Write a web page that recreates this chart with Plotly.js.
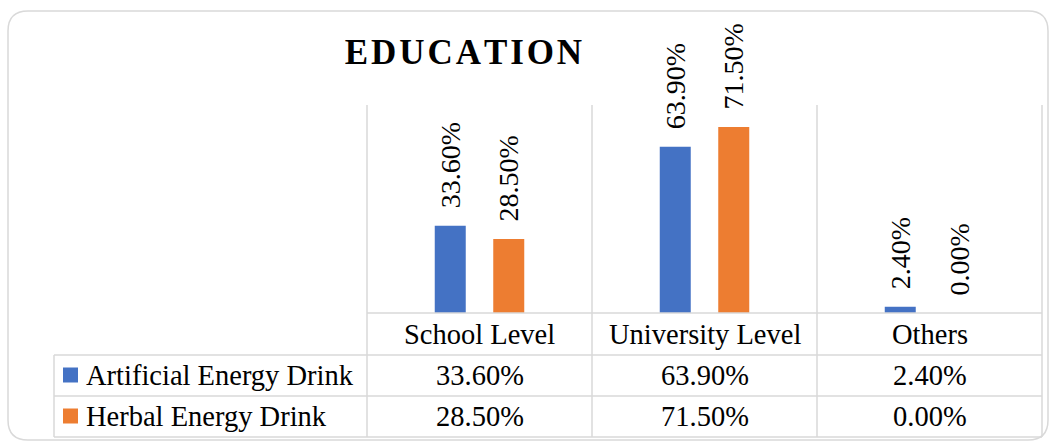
<!DOCTYPE html>
<html>
<head>
<meta charset="utf-8">
<script src="https://cdn.plot.ly/plotly-3.0.1.min.js"></script>
<style>
  html, body { margin: 0; padding: 0; background: #fff; }
  #plot { width: 1057px; height: 445px; }
</style>
</head>
<body>
<div id="plot"></div>
<script>
// Daten
const categories = ["School Level", "University Level", "Others"];
const seriesNames = ["Artificial Energy Drink", "Herbal Energy Drink"];
const artificial = [33.6, 63.9, 2.4];
const herbal = [28.5, 71.5, 0.0];

const colors = ["#4472C4", "#ED7D31"];
const gridColor = "#D9D9D9";
const FONT = "'Liberation Serif', 'Times New Roman', serif";

// Plot-Bereich in Pixel
const W = 1057, H = 445;
const L = 367, R = 1042, T = 105, B = 313;

// Pixel -> paper
function px(x) { return (x - L) / (R - L); }
function py(y) { return (B - y) / (B - T); }

function fmt(v) { return v.toFixed(2) + "%"; }

const allSeries = [artificial, herbal];

const traces = allSeries.map((vals, i) => ({
  type: "bar",
  name: seriesNames[i],
  x: categories,
  y: vals,
  marker: { color: colors[i] },
  hoverinfo: "x+y",
  showlegend: false
}));

// Beschriftungen ueber den Balken (gedreht)
const annotations = [];
const shift = [-29, 29];
allSeries.forEach((vals, i) => {
  vals.forEach((v, j) => {
    annotations.push({
      x: categories[j], y: v, xref: "x", yref: "y",
      xshift: shift[i], yshift: 15,
      text: fmt(v), textangle: -90,
      showarrow: false, xanchor: "center", yanchor: "bottom",
      font: { family: FONT, size: 28, color: "#000" }
    });
  });
});

// Datentabelle unter dem Diagramm
const colW = (R - L) / categories.length;
const rowY = [334, 375, 416];
categories.forEach((c, j) => {
  const cx = L + colW * (j + 0.5);
  annotations.push({
    x: px(cx), y: py(rowY[0]), xref: "paper", yref: "paper",
    text: c, showarrow: false, xanchor: "center", yanchor: "middle",
    font: { family: FONT, size: 28.5, color: "#000" }
  });
  allSeries.forEach((vals, i) => {
    annotations.push({
      x: px(cx), y: py(rowY[i + 1]), xref: "paper", yref: "paper",
      text: fmt(vals[j]), showarrow: false, xanchor: "center", yanchor: "middle",
      font: { family: FONT, size: 28.5, color: "#000" }
    });
  });
});
seriesNames.forEach((n, i) => {
  annotations.push({
    x: px(84), y: py(rowY[i + 1]), xref: "paper", yref: "paper",
    text: n, showarrow: false, xanchor: "left", yanchor: "middle",
    font: { family: FONT, size: 28.5, color: "#000" }
  });
});

// Linien
const shapes = [];
function line(x0, y0, x1, y1) {
  shapes.push({
    type: "line", xref: "paper", yref: "paper",
    x0: px(x0), y0: py(y0), x1: px(x1), y1: py(y1),
    line: { color: gridColor, width: 1.5 }
  });
}
for (let j = 0; j <= categories.length; j++) {
  const x = L + colW * j;
  line(x, T, x, 437);
}
line(L, B, R, B);
[355, 396, 437].forEach(y => line(54, y, R, y));
line(54, 355, 54, 437);

// Legenden-Quadrate
rowY.slice(1).forEach((y, i) => {
  shapes.push({
    type: "rect", xref: "paper", yref: "paper",
    x0: px(63), x1: px(78), y0: py(y - 7.5), y1: py(y + 7.5),
    fillcolor: colors[i], line: { width: 0 }
  });
});

// Rahmen mit runden Ecken
const bx0 = 8, by0 = 11, bx1 = 1048, by1 = 440, r = 20;
const P = (x, y) => px(x) + "," + py(y);
shapes.push({
  type: "path", xref: "paper", yref: "paper",
  path: "M" + P(bx0 + r, by0) + " L" + P(bx1 - r, by0) + " Q" + P(bx1, by0) + " " + P(bx1, by0 + r) +
        " L" + P(bx1, by1 - r) + " Q" + P(bx1, by1) + " " + P(bx1 - r, by1) +
        " L" + P(bx0 + r, by1) + " Q" + P(bx0, by1) + " " + P(bx0, by1 - r) +
        " L" + P(bx0, by0 + r) + " Q" + P(bx0, by0) + " " + P(bx0 + r, by0) + " Z",
  line: { color: gridColor, width: 1.5 }
});

const layout = {
  width: W, height: H,
  margin: { l: L, r: W - R, t: T, b: H - B, pad: 0 },
  paper_bgcolor: "#fff", plot_bgcolor: "#fff",
  barmode: "group",
  bargap: 0.48,
  bargroupgap: 0.47,
  title: {
    text: "<b>E\u200AD\u200AU\u200AC\u200AA\u200AT\u200AI\u200AO\u200AN</b>",
    x: 463.5 / W, xref: "container", xanchor: "center",
    y: 1 - 52 / H, yref: "container", yanchor: "middle",
    font: { family: FONT, size: 35, color: "#000" }
  },
  xaxis: {
    type: "category", range: [-0.5, 2.5],
    showticklabels: false, showgrid: false, zeroline: false, showline: false, ticks: ""
  },
  yaxis: {
    range: [0, 80], visible: false, showgrid: false, zeroline: false
  },
  showlegend: false,
  annotations: annotations,
  shapes: shapes
};

Plotly.newPlot("plot", traces, layout, { displayModeBar: false, staticPlot: true });
</script>
</body>
</html>
